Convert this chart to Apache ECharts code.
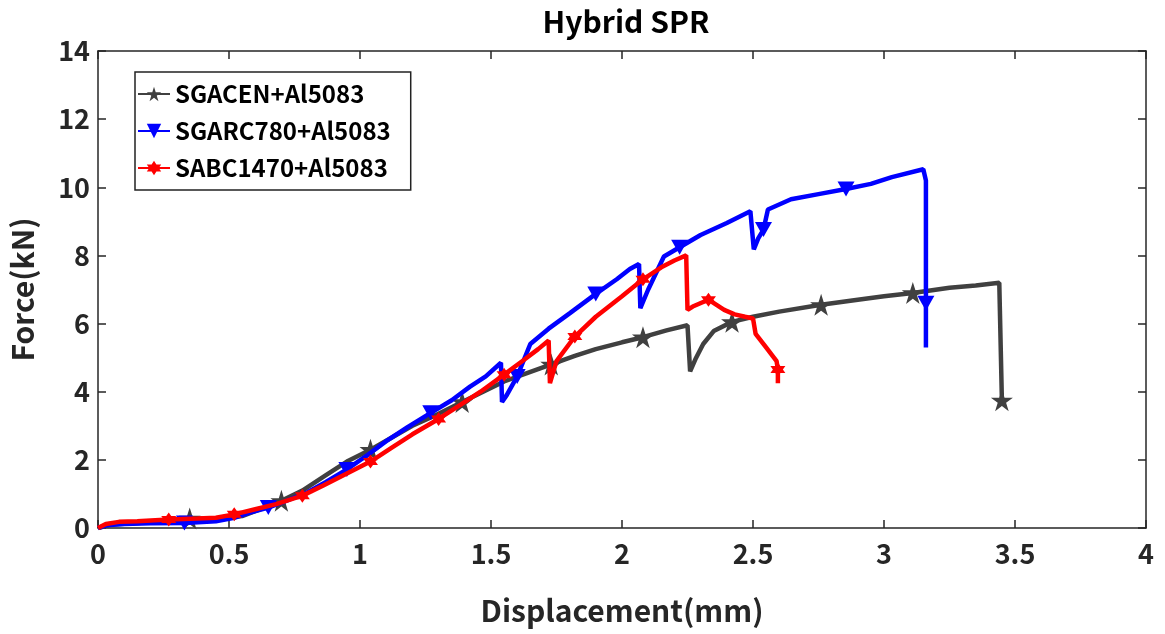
<!DOCTYPE html>
<html>
<head>
<meta charset="utf-8">
<script src="https://cdn.jsdelivr.net/npm/echarts@6/dist/echarts.min.js"></script>
<style>html,body{margin:0;padding:0;background:#fff;}#chart{width:1165px;height:634px;}</style>
</head>
<body>
<div id="chart"></div>
<script>
// ---- data ----
const seriesNames = ['SGACEN+Al5083', 'SGARC780+Al5083', 'SABC1470+Al5083'];
const xTicks = [0, 0.5, 1, 1.5, 2, 2.5, 3, 3.5, 4];
const yTicks = [0, 2, 4, 6, 8, 10, 12, 14];

const blackX = [0, 0.05, 0.15, 0.25, 0.35, 0.45, 0.55, 0.62, 0.7, 0.78, 0.87, 0.95, 1.04, 1.12, 1.2, 1.3, 1.39, 1.47, 1.55, 1.64, 1.73, 1.82, 1.9, 2.0, 2.08, 2.17, 2.25, 2.26, 2.28, 2.31, 2.35, 2.42, 2.5, 2.6, 2.76, 2.9, 3.0, 3.11, 3.25, 3.35, 3.44, 3.45];
const blackY = [0, 0.1, 0.15, 0.2, 0.28, 0.27, 0.35, 0.55, 0.8, 1.1, 1.55, 1.95, 2.3, 2.65, 3.0, 3.35, 3.7, 4.0, 4.3, 4.55, 4.8, 5.05, 5.25, 5.45, 5.6, 5.8, 5.95, 4.6, 4.95, 5.4, 5.78, 6.05, 6.2, 6.35, 6.55, 6.7, 6.8, 6.9, 7.05, 7.12, 7.2, 3.75];
const blackMarks = [4, 8, 12, 16, 20, 24, 31, 34, 37, 41];

const blueX = [0, 0.03, 0.1, 0.2, 0.33, 0.45, 0.52, 0.58, 0.65, 0.72, 0.8, 0.87, 0.95, 1.03, 1.1, 1.18, 1.27, 1.35, 1.42, 1.48, 1.538, 1.542, 1.56, 1.6, 1.65, 1.72, 1.8, 1.9, 1.98, 2.03, 2.065, 2.07, 2.1, 2.16, 2.22, 2.3, 2.4, 2.49, 2.503, 2.52, 2.54, 2.557, 2.645, 2.75, 2.855, 2.95, 3.03, 3.15, 3.16, 3.16, 3.16];
const blueY = [0, 0.08, 0.12, 0.14, 0.15, 0.2, 0.3, 0.45, 0.6, 0.8, 1.05, 1.35, 1.72, 2.15, 2.55, 2.95, 3.38, 3.75, 4.15, 4.45, 4.85, 3.7, 3.9, 4.45, 5.4, 5.85, 6.3, 6.87, 7.3, 7.6, 7.75, 6.45, 7.0, 7.97, 8.24, 8.6, 8.95, 9.3, 8.18, 8.5, 8.76, 9.35, 9.65, 9.8, 9.95, 10.1, 10.3, 10.53, 10.2, 6.6, 5.3];
const blueMarks = [4, 8, 12, 16, 23, 27, 34, 40, 44, 49];

const redX = [0, 0.03, 0.08, 0.15, 0.27, 0.38, 0.45, 0.52, 0.6, 0.68, 0.78, 0.86, 0.95, 1.04, 1.12, 1.2, 1.3, 1.38, 1.46, 1.55, 1.62, 1.68, 1.72, 1.725, 1.75, 1.82, 1.9, 2.0, 2.08, 2.15, 2.2, 2.245, 2.25, 2.27, 2.33, 2.39, 2.43, 2.47, 2.5, 2.51, 2.55, 2.59, 2.595, 2.595];
const redY = [0, 0.12, 0.18, 0.2, 0.25, 0.28, 0.3, 0.4, 0.55, 0.7, 0.95, 1.25, 1.6, 1.95, 2.35, 2.75, 3.2, 3.6, 4.0, 4.5, 4.9, 5.25, 5.5, 4.25, 4.9, 5.62, 6.2, 6.8, 7.3, 7.65, 7.85, 8.0, 6.4, 6.5, 6.7, 6.4, 6.27, 6.2, 6.15, 5.7, 5.3, 4.9, 4.65, 4.25];
const redMarks = [4, 7, 10, 13, 16, 19, 25, 28, 34, 42];

// ---- styling ----
const FONT = '"Noto Sans CJK KR", "Noto Sans", sans-serif';
const AX = '#262626';
const starPath = 'path://M0,-100 L22.5,-30.9 L95.1,-30.9 L36.3,11.8 L58.8,80.9 L0,38.2 L-58.8,80.9 L-36.3,11.8 L-95.1,-30.9 L-22.5,-30.9 Z';
const hexPath = 'path://M0,-100 L28.9,-50 L86.6,-50 L57.7,0 L86.6,50 L28.9,50 L0,100 L-28.9,50 L-86.6,50 L-57.7,0 L-86.6,-50 L-28.9,-50 Z';

function build(xs, ys, marks) {
  return xs.map((x, i) => marks.indexOf(i) >= 0 ? { value: [x, ys[i]] } : { value: [x, ys[i]], symbol: 'none' });
}

const chart = echarts.init(document.getElementById('chart'), null, { renderer: 'canvas' });

function axisBase() {
  return {
    type: 'value', min: 0,
    axisLine: { show: true, onZero: false, lineStyle: { color: AX, width: 1.5 } },
    axisTick: { show: true, inside: true, length: 8, lineStyle: { color: AX, width: 1.5 } },
    splitLine: { show: false }
  };
}

chart.setOption({
  animation: false,
  backgroundColor: '#fff',
  title: {
    text: 'Hybrid SPR', left: 621, top: 2, textAlign: 'center',
    textStyle: { fontFamily: FONT, fontSize: 30, fontWeight: 'bold', color: '#000' }
  },
  grid: { left: 97, right: 19, top: 51, bottom: 106, containLabel: false },
  legend: {
    orient: 'vertical', left: 135, top: 72,
    data: seriesNames,
    itemWidth: 32, itemHeight: 18, itemGap: 13,
    padding: [10, 20, 10, 2],
    borderColor: '#222', borderWidth: 1.5,
    textStyle: { fontFamily: FONT, fontSize: 24, fontWeight: 'bold', color: '#000' }
  },
  xAxis: [
    Object.assign(axisBase(), {
      position: 'bottom', max: 4, interval: 0.5,
      axisLabel: { color: AX, fontFamily: FONT, fontSize: 27, fontWeight: 'bold', margin: 12,
        formatter: v => xTicks.indexOf(v) >= 0 ? String(v) : '' },
      name: 'Displacement(mm)', nameLocation: 'middle', nameGap: 68,
      nameTextStyle: { fontFamily: FONT, fontSize: 30, fontWeight: 'bold', color: AX }
    }),
    Object.assign(axisBase(), {
      position: 'top', max: 4, interval: 0.5, axisLabel: { show: false }
    })
  ],
  yAxis: [
    Object.assign(axisBase(), {
      position: 'left', max: 14, interval: 2,
      axisLabel: { color: AX, fontFamily: FONT, fontSize: 27, fontWeight: 'bold', margin: 8,
        formatter: v => yTicks.indexOf(v) >= 0 ? String(v) : '' },
      name: 'Force(kN)', nameLocation: 'middle', nameGap: 60,
      nameTextStyle: { fontFamily: FONT, fontSize: 30, fontWeight: 'bold', color: AX }
    }),
    Object.assign(axisBase(), {
      position: 'right', max: 14, interval: 2, axisLabel: { show: false }
    })
  ],
  series: [
    {
      name: seriesNames[0], type: 'line', xAxisIndex: 0, yAxisIndex: 0,
      data: build(blackX, blackY, blackMarks),
      showAllSymbol: true, symbol: starPath, symbolSize: 22,
      lineStyle: { color: '#404040', width: 4.5 }, itemStyle: { color: '#404040' },
      z: 2
    },
    {
      name: seriesNames[1], type: 'line', xAxisIndex: 0, yAxisIndex: 0,
      data: build(blueX, blueY, blueMarks),
      showAllSymbol: true, symbol: 'triangle', symbolRotate: 180, symbolSize: [17, 15],
      lineStyle: { color: '#0000ff', width: 4.5 }, itemStyle: { color: '#0000ff' },
      z: 3
    },
    {
      name: seriesNames[2], type: 'line', xAxisIndex: 0, yAxisIndex: 0,
      data: build(redX, redY, redMarks),
      showAllSymbol: true, symbol: hexPath, symbolSize: [15, 14],
      lineStyle: { color: '#ff0000', width: 4.5 }, itemStyle: { color: '#ff0000' },
      z: 4
    }
  ]
});
</script>
</body>
</html>
